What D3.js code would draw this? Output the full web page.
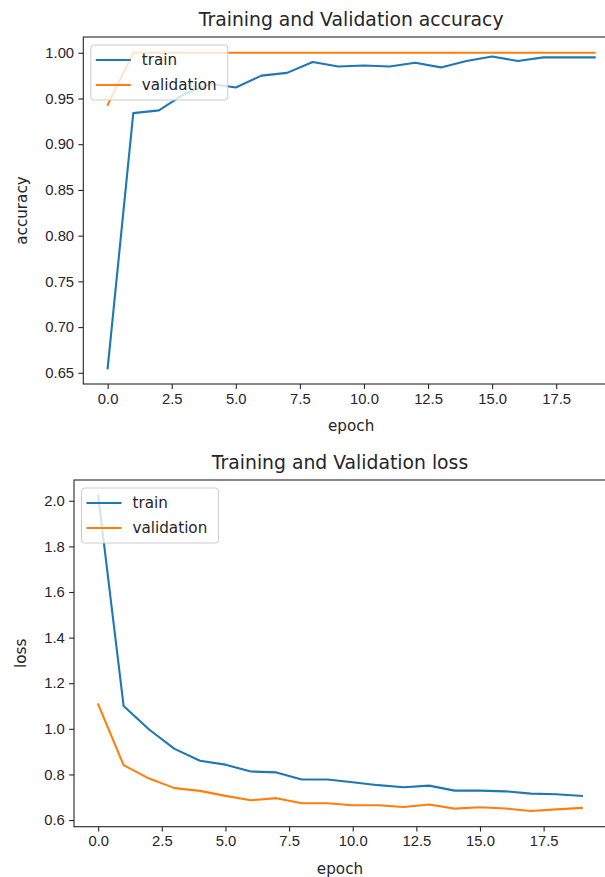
<!DOCTYPE html>
<html lang="en">
<head>
<meta charset="UTF-8">
<title>Training and Validation</title>
<script src="https://d3js.org/d3.v7.min.js"></script>
<style>
    body { margin: 0; background: #fff; }
    svg { display: block; font-family: "DejaVu Sans", sans-serif; }
    .tick text { font-size: 14.8px; fill: #262626; }
    .tick line { stroke: #262626; stroke-width: 1.1px; }
</style>
</head>
<body>
<svg id="chart"></svg>
<script>
    // data
    const epochs = [0, 1, 2, 3, 4, 5, 6, 7, 8, 9, 10, 11, 12, 13, 14, 15, 16, 17, 18, 19];
    const trainAcc = [0.655, 0.934, 0.937, 0.955, 0.966, 0.962, 0.975, 0.978, 0.990, 0.985,
        0.986, 0.985, 0.989, 0.984, 0.991, 0.996, 0.991, 0.995, 0.995, 0.995];
    const valAcc = [0.943, 1.0, 1.0, 1.0, 1.0, 1.0, 1.0, 1.0, 1.0, 1.0,
        1.0, 1.0, 1.0, 1.0, 1.0, 1.0, 1.0, 1.0, 1.0, 1.0];
    const trainLoss = [2.022, 1.100, 0.997, 0.912, 0.860, 0.843, 0.813, 0.809, 0.778, 0.778,
        0.766, 0.753, 0.744, 0.751, 0.729, 0.729, 0.726, 0.716, 0.713, 0.706];
    const valLoss = [1.107, 0.841, 0.782, 0.740, 0.728, 0.706, 0.687, 0.696, 0.674, 0.674,
        0.665, 0.665, 0.657, 0.668, 0.650, 0.656, 0.651, 0.640, 0.647, 0.653];

    const xTicks = [0, 2.5, 5, 7.5, 10, 12.5, 15, 17.5];
    const accTicks = [0.65, 0.70, 0.75, 0.80, 0.85, 0.90, 0.95, 1.00];
    const lossTicks = [0.6, 0.8, 1.0, 1.2, 1.4, 1.6, 1.8, 2.0];
    const seriesNames = ["train", "validation"];
    const colors = ["#1f77b4", "#ff7f0e"];

    const width = 605, height = 877;
    const svg = d3.select("#chart").attr("width", width).attr("height", height);

    const panels = [
        {title: "Training and Validation accuracy", ylabel: "accuracy", series: [trainAcc, valAcc],
            yTicks: accTicks, yFormat: d3.format(".2f"),
            left: 83.3, top: 37, right: 619, bottom: 384, ylabelX: 22},
        {title: "Training and Validation loss", ylabel: "loss", series: [trainLoss, valLoss],
            yTicks: lossTicks, yFormat: d3.format(".1f"),
            left: 74, top: 480, right: 606, bottom: 826.7, ylabelX: 21}
    ];

    function drawPanel(p) {
        const g = svg.append("g");

        // matplotlib style 5% margins
        const xPad = (d3.max(epochs) - d3.min(epochs)) * 0.05;
        const x = d3.scaleLinear()
            .domain([d3.min(epochs) - xPad, d3.max(epochs) + xPad])
            .range([p.left, p.right]);
        const all = p.series.flat();
        const lo = d3.min(all), hi = d3.max(all);
        const yPad = (hi - lo) * 0.05;
        const y = d3.scaleLinear()
            .domain([lo - yPad, hi + yPad])
            .range([p.bottom, p.top]);

        const xAxis = g.append("g")
            .attr("transform", `translate(0,${p.bottom})`)
            .call(d3.axisBottom(x).tickValues(xTicks).tickFormat(d3.format(".1f"))
                .tickSize(4.9).tickPadding(4.3).tickSizeOuter(0));
        xAxis.select(".domain").remove();
        xAxis.selectAll("text").attr("font-family", null).attr("font-size", null);

        const yAxis = g.append("g")
            .attr("transform", `translate(${p.left},0)`)
            .call(d3.axisLeft(y).tickValues(p.yTicks).tickFormat(p.yFormat)
                .tickSize(4.9).tickPadding(4.3).tickSizeOuter(0));
        yAxis.select(".domain").remove();
        yAxis.selectAll("text").attr("font-family", null).attr("font-size", null);

        const line = d3.line()
            .x((d, i) => x(epochs[i]))
            .y(d => y(d));

        p.series.forEach((s, i) => {
            g.append("path")
                .datum(s)
                .attr("d", line)
                .attr("fill", "none")
                .attr("stroke", colors[i])
                .attr("stroke-width", 2.1)
                .attr("stroke-linejoin", "round")
                .attr("stroke-linecap", "square");
        });

        // spines
        g.append("rect")
            .attr("x", p.left).attr("y", p.top)
            .attr("width", p.right - p.left).attr("height", p.bottom - p.top)
            .attr("fill", "none").attr("stroke", "#262626").attr("stroke-width", 1.1);

        // title and labels
        const cx = (p.left + p.right) / 2;
        g.append("text")
            .attr("x", cx).attr("y", p.top - 11)
            .attr("text-anchor", "middle")
            .attr("font-size", 18.8).attr("fill", "#262626")
            .text(p.title);
        g.append("text")
            .attr("x", cx).attr("y", p.bottom + 47)
            .attr("text-anchor", "middle")
            .attr("font-size", 15.2).attr("fill", "#262626")
            .text("epoch");
        g.append("text")
            .attr("transform", `translate(${p.ylabelX},${(p.top + p.bottom) / 2}) rotate(-90)`)
            .attr("text-anchor", "middle")
            .attr("dy", "0.35em")
            .attr("font-size", 15.2).attr("fill", "#262626")
            .text(p.ylabel);

        // legend, upper left
        const lg = g.append("g").attr("transform", `translate(${p.left + 7.5},${p.top + 8})`);
        lg.append("rect")
            .attr("width", 137).attr("height", 55).attr("rx", 3)
            .attr("fill", "#fff").attr("fill-opacity", 0.8)
            .attr("stroke", "#cccccc").attr("stroke-width", 1);
        seriesNames.forEach((name, i) => {
            const ly = 15 + i * 25;
            lg.append("line")
                .attr("x1", 5).attr("x2", 40).attr("y1", ly).attr("y2", ly)
                .attr("stroke", colors[i]).attr("stroke-width", 2.1);
            lg.append("text")
                .attr("x", 51).attr("y", ly).attr("dy", "0.35em")
                .attr("font-size", 15.2).attr("fill", "#262626")
                .text(name);
        });
    }

    panels.forEach(drawPanel);
</script>
</body>
</html>
